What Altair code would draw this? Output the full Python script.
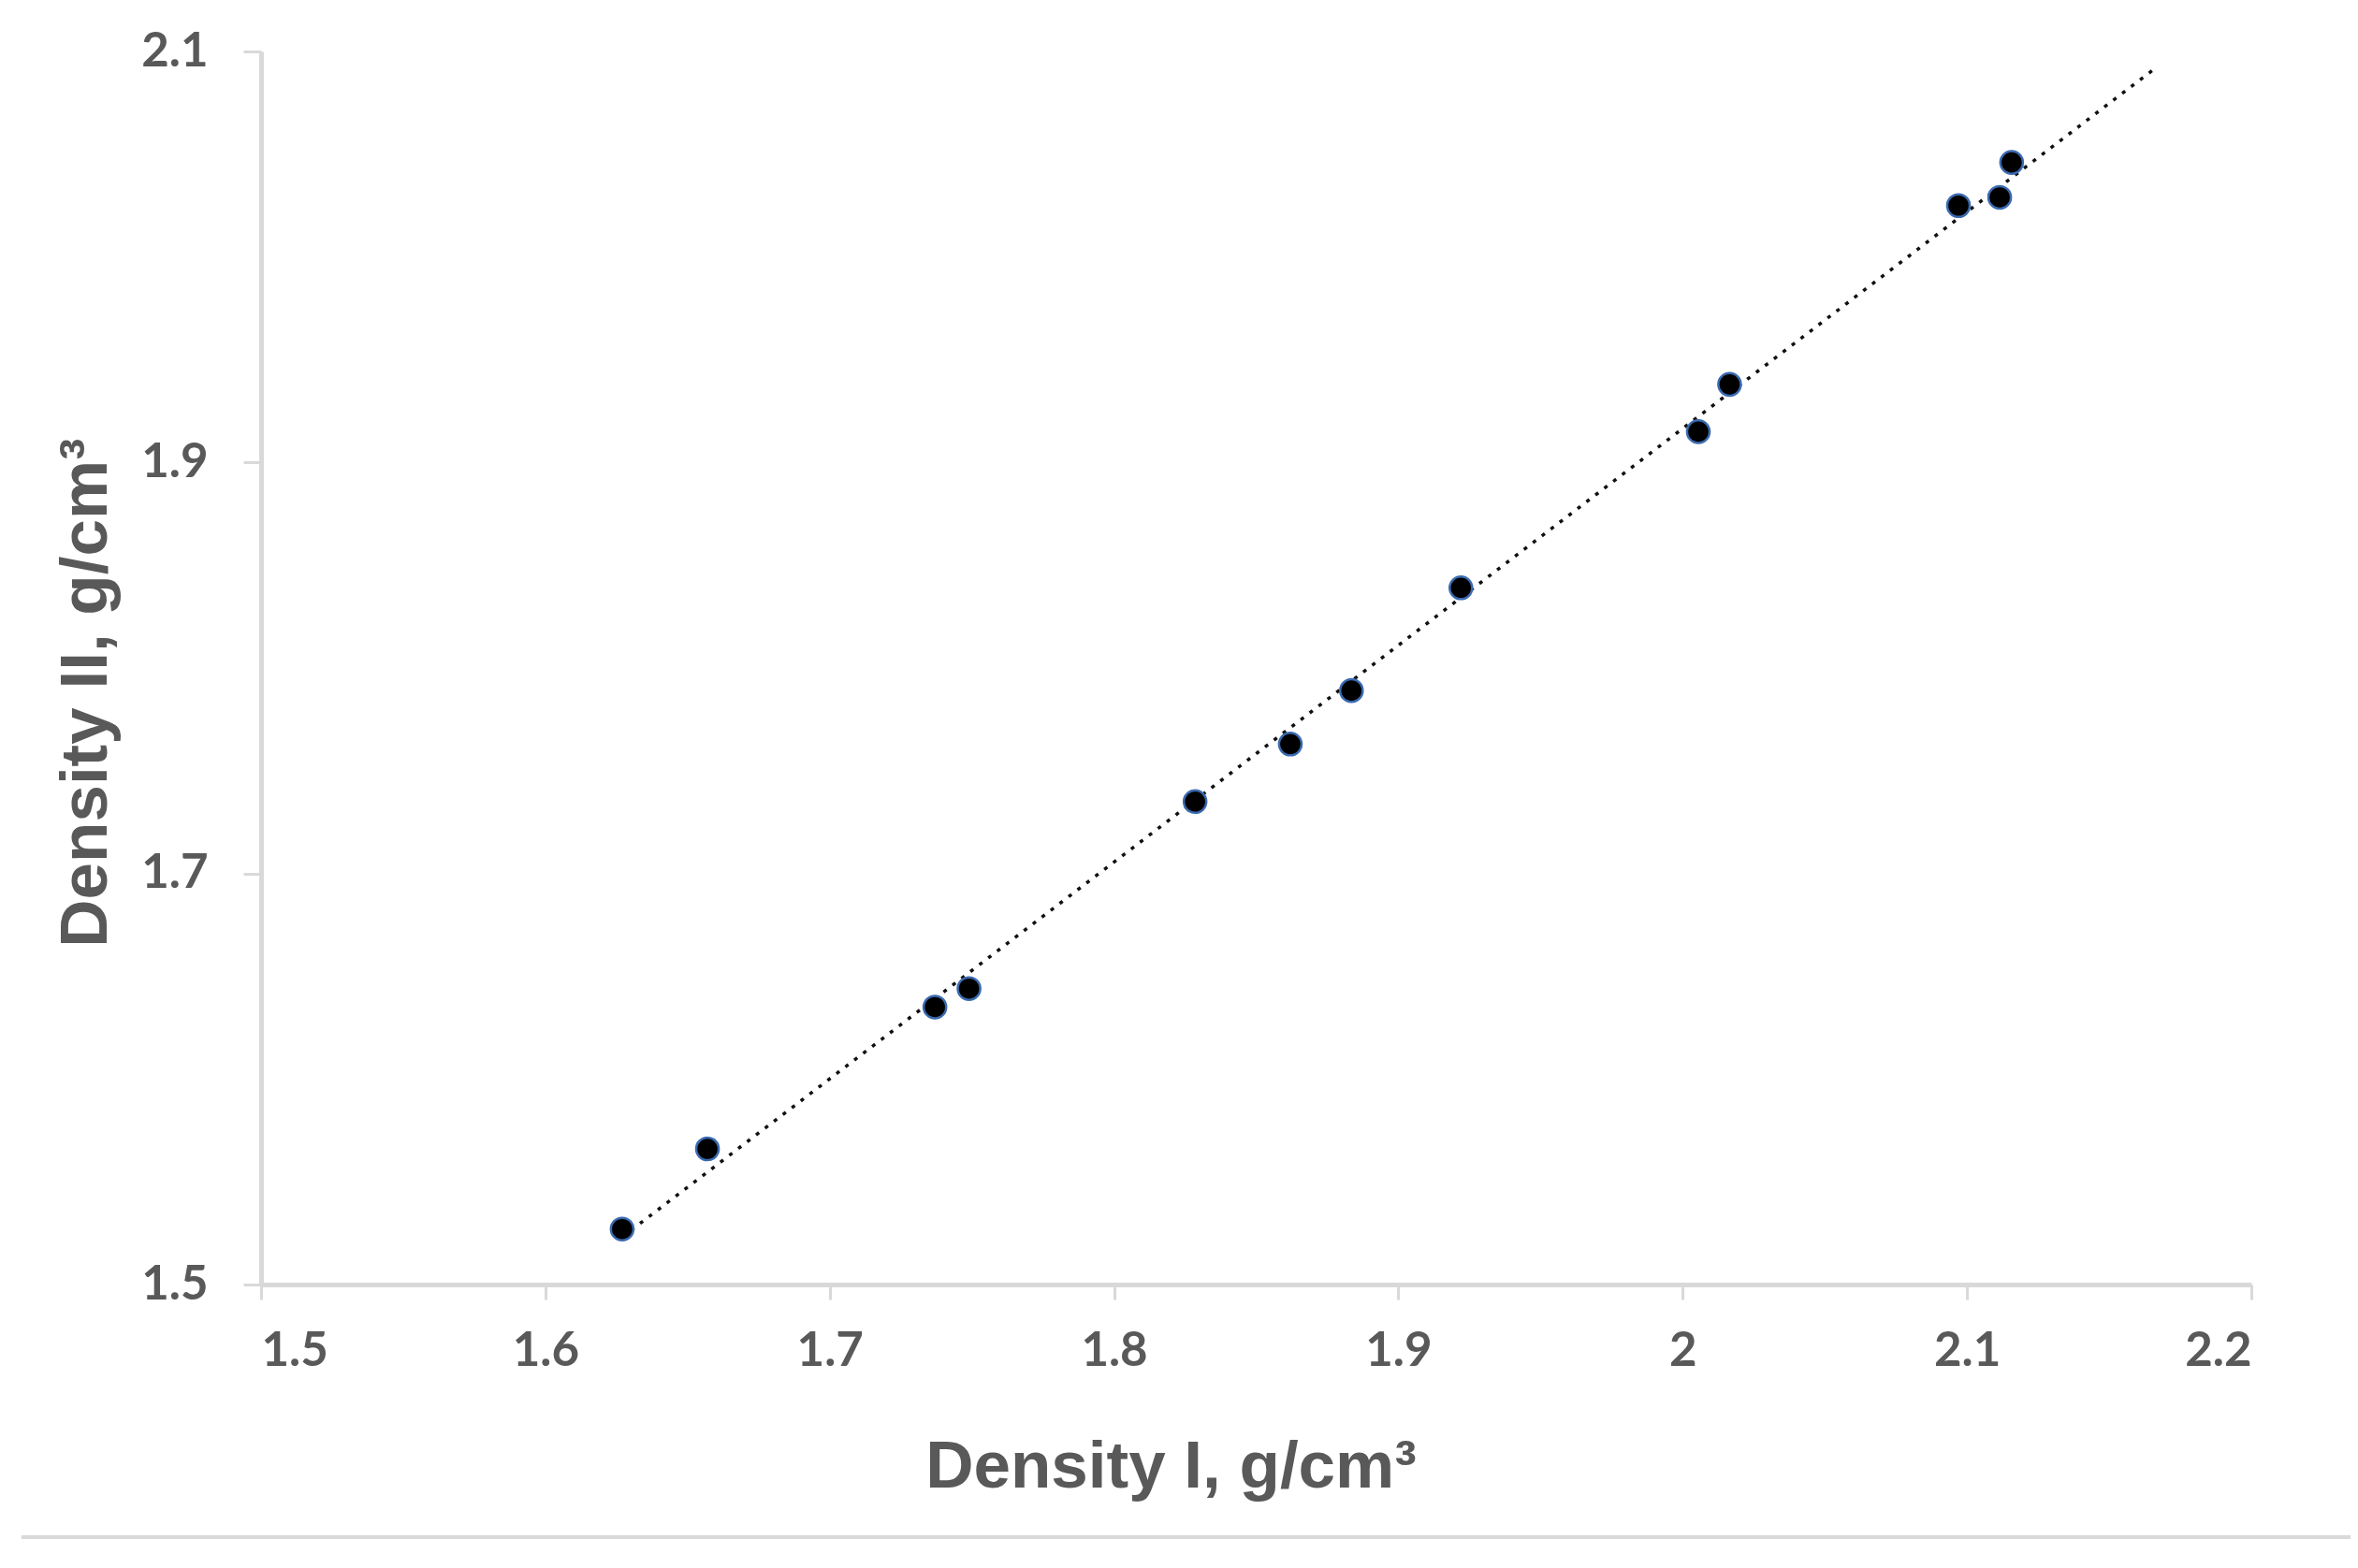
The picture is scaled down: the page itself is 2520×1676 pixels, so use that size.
import altair as alt
import pandas as pd

density_1 = [1.627, 1.657, 1.737, 1.749, 1.8285, 1.862, 1.8835, 1.922, 2.0055, 2.0165, 2.097, 2.1115, 2.1157]
density_2 = [1.527, 1.566, 1.635, 1.644, 1.735, 1.763, 1.789, 1.839, 1.915, 1.938, 2.025, 2.029, 2.046]
x_ticks = [1.5, 1.6, 1.7, 1.8, 1.9, 2.0, 2.1, 2.2]
y_ticks = [1.5, 1.7, 1.9, 2.1]
trend_end = 2.167

df = pd.DataFrame({"d1": density_1, "d2": density_2})

GRAY_TXT = "#595959"
AXIS_GRAY = "#d9d9d9"

x_enc = alt.X(
    "d1:Q",
    scale=alt.Scale(domain=[1.5, 2.2], nice=False, zero=False),
    axis=alt.Axis(
        title="Density I, g/cm³",
        values=x_ticks,
        format=".1~f",
        grid=False,
        domainColor=AXIS_GRAY,
        domainWidth=5,
        tickColor=AXIS_GRAY,
        tickWidth=3,
        tickSize=16,
        labelPadding=30,
        labelFont="Lato",
        labelFontWeight="bold",
        labelFontSize=51,
        labelColor=GRAY_TXT,
        labelBaseline="top",
        titleFont="Liberation Sans",
        titleFontWeight="bold",
        titleFontSize=71,
        titleColor=GRAY_TXT,
        titleX=972,
        titleY=216,
        titleAlign="center",
        titleBaseline="alphabetic",
    ),
)

y_enc = alt.Y(
    "d2:Q",
    scale=alt.Scale(domain=[1.5, 2.1], nice=False, zero=False),
    axis=alt.Axis(
        title="Density II, g/cm³",
        values=y_ticks,
        format=".1~f",
        grid=False,
        domainColor=AXIS_GRAY,
        domainWidth=5,
        tickColor=AXIS_GRAY,
        tickWidth=3,
        tickSize=19,
        labelPadding=38,
        labelFont="Lato",
        labelFontWeight="bold",
        labelFontSize=51,
        labelColor=GRAY_TXT,
        titleFont="Liberation Sans",
        titleFontWeight="bold",
        titleFontSize=71,
        titleColor=GRAY_TXT,
        titleAngle=270,
        titleX=-166,
        titleY=685,
        titleAlign="center",
        titleBaseline="alphabetic",
    ),
)

base = alt.Chart(df)

trend = base.transform_regression(
    "d1", "d2", extent=[min(density_1), trend_end]
).mark_line(
    color="#111111", strokeWidth=3.5, strokeDash=[4, 8], strokeCap="butt"
).encode(x=x_enc, y=y_enc)

points = base.mark_circle(
    size=580, color="black", opacity=1, stroke="#3a6ab0", strokeWidth=2.5
).encode(x=x_enc, y=y_enc)

separator = alt.Chart(pd.DataFrame({"a": [0]})).mark_rule(
    color=AXIS_GRAY, strokeWidth=4
).encode(x=alt.value(-256), x2=alt.value(2241), y=alt.value(1588))

chart = alt.layer(trend, points, separator).properties(
    width=2127,
    height=1318,
    autosize="none",
    padding={"left": 271, "top": 47, "right": 106, "bottom": 295},
    background="white",
).configure_view(stroke=None)

chart.save("out.html", embed_options={"renderer": "svg", "actions": False})
